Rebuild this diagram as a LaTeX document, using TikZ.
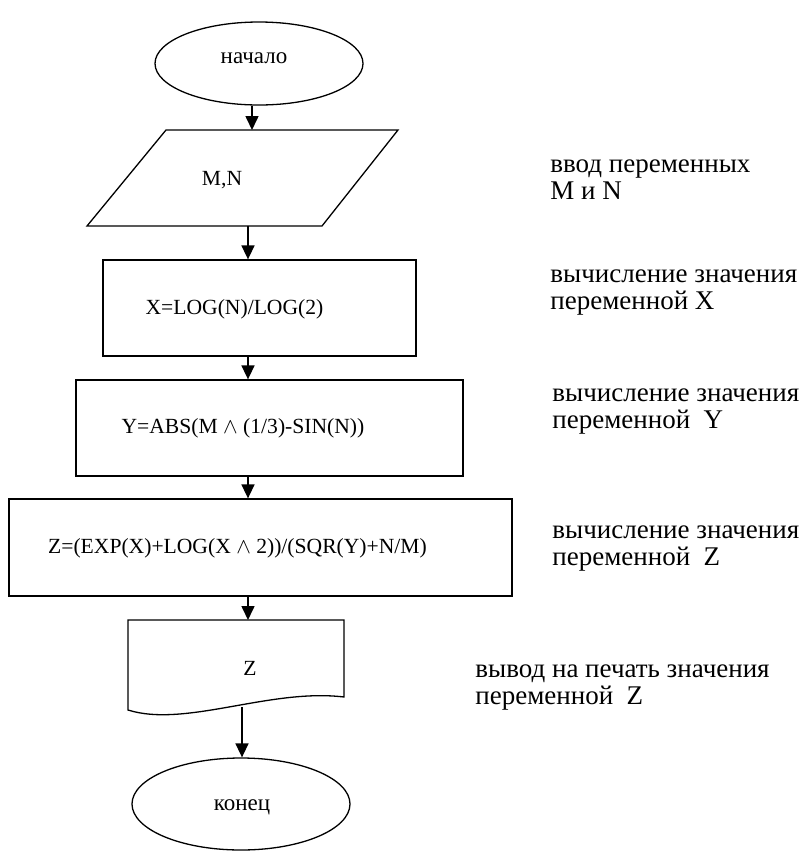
\documentclass[tikz,border=0pt]{standalone}
\usepackage{fontspec}
\setmainfont{Liberation Serif}
\usetikzlibrary{shapes.geometric,arrows.meta}
\tikzset{
  box/.style={draw, line width=0.65pt, inner sep=0pt},
  term/.style={box, ellipse},
  txt/.style={font=\fontsize{10.8}{13}\selectfont, inner sep=0pt},
  termtxt/.style={txt, font=\fontsize{11.5}{13.5}\selectfont},
  note/.style={inner sep=0pt, font=\fontsize{13.5}{13.5}\selectfont, align=left, anchor=west},
  flow/.style={line width=0.8pt, -{Triangle[width=6.5pt,length=7pt]}},
}
\begin{document}
\begin{tikzpicture}[x=0.5pt,y=-0.5pt]
  \useasboundingbox (0,0) rectangle (802,852);
  % blocks
  \node[term, minimum width=104pt, minimum height=41.5pt] (start) at (259,63.5) {};
  \draw[line width=0.65pt] (166,130) -- (398,130) -- (322,226) -- (87,226) -- cycle;
  \coordinate (in-top) at (252,130);
  \coordinate (in-bot) at (248,226);
  \node[box, minimum width=156.5pt, minimum height=48pt] (xbox) at (259.5,308) {};
  \node[box, minimum width=193.5pt, minimum height=48pt] (ybox) at (269.5,428) {};
  \node[box, minimum width=251.5pt, minimum height=48.5pt] (zbox) at (260.5,547.5) {};
  \draw[line width=0.65pt] (128,620) -- (344,620) -- (344,697)
    .. controls (270,688) and (185,728) .. (128,710) -- cycle;
  \coordinate (out-top) at (248,620);
  \coordinate (out-bot) at (242,707);
  \node[term, minimum width=109pt, minimum height=46pt] (stop) at (241,804) {};
  % texts in blocks
  \node[termtxt] (t-start) at (254,58) {начало};
  \node[txt] (t-in) at (222,180) {M,N};
  \node[txt] (t-x) at (234.5,309) {X=LOG(N)/LOG(2)};
  \node[txt] (t-y) at (243,428) {Y=ABS(M $\wedge$ (1/3)-SIN(N))};
  \node[txt] (t-z) at (237.5,548) {Z=(EXP(X)+LOG(X $\wedge$ 2))/(SQR(Y)+N/M)};
  \node[txt] (t-out) at (250,668) {Z};
  \node[termtxt] (t-stop) at (242,807) {конец};
  % notes
  \node[note] (n-in) at (550,179.5) {ввод переменных\\M и N};
  \node[note] (n-x) at (550,293) {вычисление значения\\переменной X};
  \node[note] (n-y) at (552,412) {вычисление значения\\переменной~ Y};
  \node[note] (n-z) at (552,549) {вычисление значения\\переменной~ Z};
  \node[note] (n-out) at (475,688) {вывод на печать значения\\переменной~ Z};
  % arrows
  \begin{scope}[flow]
    \draw (start.south -| in-top) -- (in-top);
    \draw (in-bot) -- (in-bot |- xbox.north);
    \draw (xbox.south -| in-bot) -- (ybox.north -| in-bot);
    \draw (ybox.south -| in-bot) -- (zbox.north -| in-bot);
    \draw (zbox.south -| in-bot) -- (out-top);
    \draw (out-bot) -- (stop.north -| out-bot);
  \end{scope}
\end{tikzpicture}
\end{document}
